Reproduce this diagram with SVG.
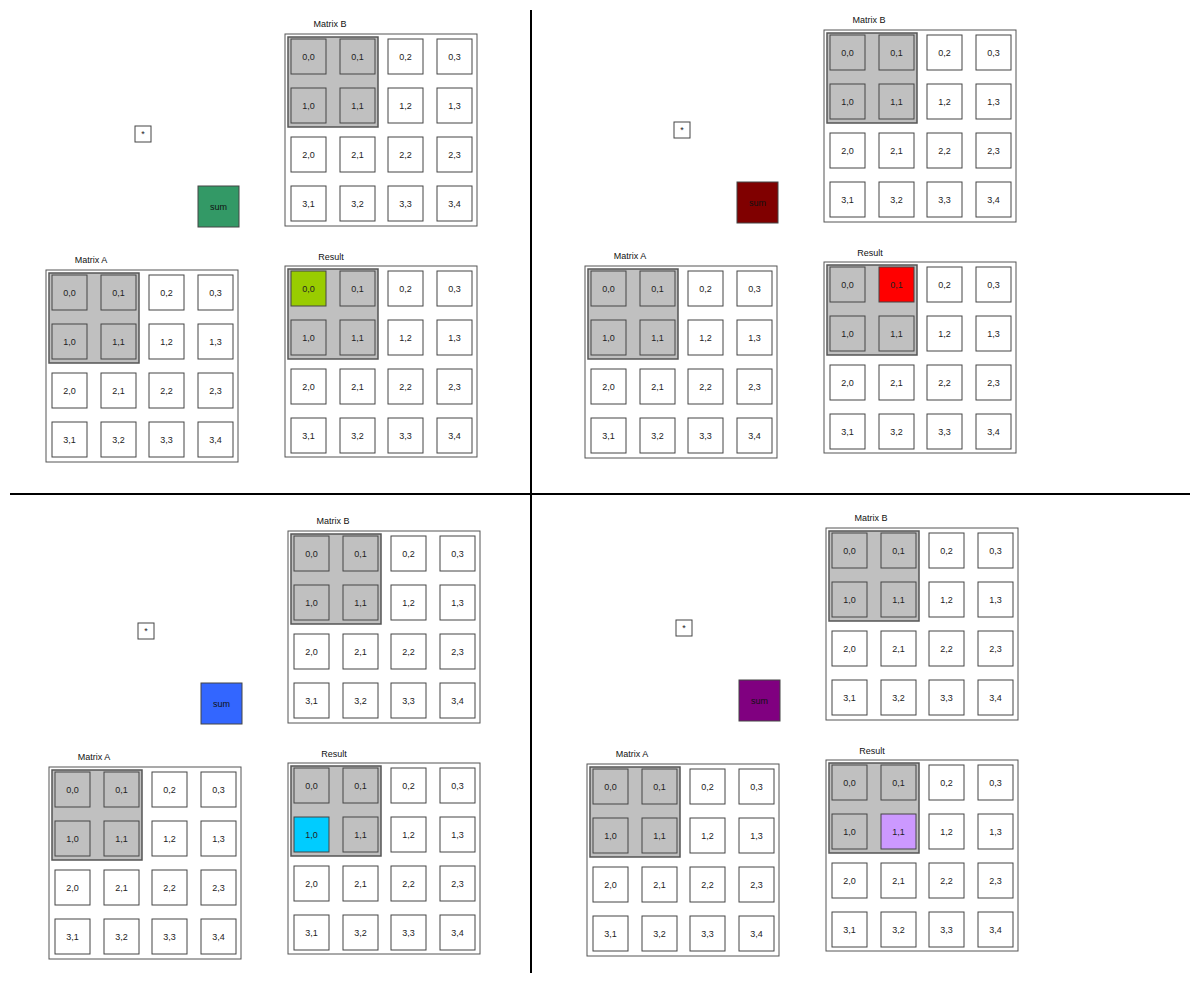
<svg xmlns="http://www.w3.org/2000/svg" width="1200" height="984" viewBox="0 0 1200 984">
<style>
.bg{fill:#fff}
.outer{fill:#fff;stroke:#555;stroke-width:1}
.hl{fill:#c0c0c0;stroke:#555;stroke-width:1.5}
.c{fill:#fff;stroke:#444;stroke-width:1}
.g{fill:#c0c0c0;stroke:#444;stroke-width:1}
.t{font-family:"Liberation Sans",Arial,sans-serif;font-size:9px;text-anchor:middle;fill:#222}
.lbl{font-family:"Liberation Sans",Arial,sans-serif;font-size:9px;text-anchor:middle;fill:#111}
.star{fill:#fff;stroke:#444;stroke-width:1}
.div{stroke:#000;stroke-width:2}
</style>
<rect class="bg" x="0" y="0" width="1200" height="984"/>

<g id="dividers">
<line class="div" x1="531" y1="10" x2="531" y2="973"/>
<line class="div" x1="10" y1="494" x2="1190" y2="494"/>
</g>

<!-- ================= TOP LEFT ================= -->
<g id="q-tl">
<g id="tl-star"><rect class="star" x="135" y="126" width="16" height="16"/><text class="t" x="143" y="137">*</text></g>
<g id="tl-sum"><rect x="198" y="186" width="41" height="41" fill="#339966" stroke="#444"/><text class="t" x="218.5" y="209.5" style="fill:#111">sum</text></g>
<text class="lbl" x="330" y="27">Matrix B</text>
<g id="tl-matrix-b" transform="translate(285,34)">
<rect class="outer" x="0" y="0" width="192" height="192"/>
<rect class="hl" x="3" y="3" width="90" height="90"/>
<rect class="g" x="6" y="5" width="35" height="35"/><text class="t" x="23.5" y="25.5">0,0</text>
<rect class="g" x="55" y="5" width="35" height="35"/><text class="t" x="72.5" y="25.5">0,1</text>
<rect class="c" x="103" y="5" width="35" height="35"/><text class="t" x="120.5" y="25.5">0,2</text>
<rect class="c" x="152" y="5" width="35" height="35"/><text class="t" x="169.5" y="25.5">0,3</text>
<rect class="g" x="6" y="54" width="35" height="35"/><text class="t" x="23.5" y="74.5">1,0</text>
<rect class="g" x="55" y="54" width="35" height="35"/><text class="t" x="72.5" y="74.5">1,1</text>
<rect class="c" x="103" y="54" width="35" height="35"/><text class="t" x="120.5" y="74.5">1,2</text>
<rect class="c" x="152" y="54" width="35" height="35"/><text class="t" x="169.5" y="74.5">1,3</text>
<rect class="c" x="6" y="103" width="35" height="35"/><text class="t" x="23.5" y="123.5">2,0</text>
<rect class="c" x="55" y="103" width="35" height="35"/><text class="t" x="72.5" y="123.5">2,1</text>
<rect class="c" x="103" y="103" width="35" height="35"/><text class="t" x="120.5" y="123.5">2,2</text>
<rect class="c" x="152" y="103" width="35" height="35"/><text class="t" x="169.5" y="123.5">2,3</text>
<rect class="c" x="6" y="152" width="35" height="35"/><text class="t" x="23.5" y="172.5">3,1</text>
<rect class="c" x="55" y="152" width="35" height="35"/><text class="t" x="72.5" y="172.5">3,2</text>
<rect class="c" x="103" y="152" width="35" height="35"/><text class="t" x="120.5" y="172.5">3,3</text>
<rect class="c" x="152" y="152" width="35" height="35"/><text class="t" x="169.5" y="172.5">3,4</text>
</g>
<text class="lbl" x="91" y="263">Matrix A</text>
<g id="tl-matrix-a" transform="translate(46,270)">
<rect class="outer" x="0" y="0" width="192" height="192"/>
<rect class="hl" x="3" y="3" width="90" height="90"/>
<rect class="g" x="6" y="5" width="35" height="35"/><text class="t" x="23.5" y="25.5">0,0</text>
<rect class="g" x="55" y="5" width="35" height="35"/><text class="t" x="72.5" y="25.5">0,1</text>
<rect class="c" x="103" y="5" width="35" height="35"/><text class="t" x="120.5" y="25.5">0,2</text>
<rect class="c" x="152" y="5" width="35" height="35"/><text class="t" x="169.5" y="25.5">0,3</text>
<rect class="g" x="6" y="54" width="35" height="35"/><text class="t" x="23.5" y="74.5">1,0</text>
<rect class="g" x="55" y="54" width="35" height="35"/><text class="t" x="72.5" y="74.5">1,1</text>
<rect class="c" x="103" y="54" width="35" height="35"/><text class="t" x="120.5" y="74.5">1,2</text>
<rect class="c" x="152" y="54" width="35" height="35"/><text class="t" x="169.5" y="74.5">1,3</text>
<rect class="c" x="6" y="103" width="35" height="35"/><text class="t" x="23.5" y="123.5">2,0</text>
<rect class="c" x="55" y="103" width="35" height="35"/><text class="t" x="72.5" y="123.5">2,1</text>
<rect class="c" x="103" y="103" width="35" height="35"/><text class="t" x="120.5" y="123.5">2,2</text>
<rect class="c" x="152" y="103" width="35" height="35"/><text class="t" x="169.5" y="123.5">2,3</text>
<rect class="c" x="6" y="152" width="35" height="35"/><text class="t" x="23.5" y="172.5">3,1</text>
<rect class="c" x="55" y="152" width="35" height="35"/><text class="t" x="72.5" y="172.5">3,2</text>
<rect class="c" x="103" y="152" width="35" height="35"/><text class="t" x="120.5" y="172.5">3,3</text>
<rect class="c" x="152" y="152" width="35" height="35"/><text class="t" x="169.5" y="172.5">3,4</text>
</g>
<text class="lbl" x="331" y="260">Result</text>
<g id="tl-result" transform="translate(285,266)">
<rect class="outer" x="0" y="0" width="192" height="191"/>
<rect class="hl" x="3" y="3" width="90" height="90"/>
<rect x="6" y="5" width="35" height="35" fill="#99cc00" stroke="#444"/><text class="t" x="23.5" y="25.5">0,0</text>
<rect class="g" x="55" y="5" width="35" height="35"/><text class="t" x="72.5" y="25.5">0,1</text>
<rect class="c" x="103" y="5" width="35" height="35"/><text class="t" x="120.5" y="25.5">0,2</text>
<rect class="c" x="152" y="5" width="35" height="35"/><text class="t" x="169.5" y="25.5">0,3</text>
<rect class="g" x="6" y="54" width="35" height="35"/><text class="t" x="23.5" y="74.5">1,0</text>
<rect class="g" x="55" y="54" width="35" height="35"/><text class="t" x="72.5" y="74.5">1,1</text>
<rect class="c" x="103" y="54" width="35" height="35"/><text class="t" x="120.5" y="74.5">1,2</text>
<rect class="c" x="152" y="54" width="35" height="35"/><text class="t" x="169.5" y="74.5">1,3</text>
<rect class="c" x="6" y="103" width="35" height="35"/><text class="t" x="23.5" y="123.5">2,0</text>
<rect class="c" x="55" y="103" width="35" height="35"/><text class="t" x="72.5" y="123.5">2,1</text>
<rect class="c" x="103" y="103" width="35" height="35"/><text class="t" x="120.5" y="123.5">2,2</text>
<rect class="c" x="152" y="103" width="35" height="35"/><text class="t" x="169.5" y="123.5">2,3</text>
<rect class="c" x="6" y="152" width="35" height="35"/><text class="t" x="23.5" y="172.5">3,1</text>
<rect class="c" x="55" y="152" width="35" height="35"/><text class="t" x="72.5" y="172.5">3,2</text>
<rect class="c" x="103" y="152" width="35" height="35"/><text class="t" x="120.5" y="172.5">3,3</text>
<rect class="c" x="152" y="152" width="35" height="35"/><text class="t" x="169.5" y="172.5">3,4</text>
</g>
</g>

<!-- ================= TOP RIGHT ================= -->
<g id="q-tr" transform="translate(539,-4)">
<g id="tr-star"><rect class="star" x="135" y="126" width="16" height="16"/><text class="t" x="143" y="137">*</text></g>
<g id="tr-sum"><rect x="198" y="186" width="41" height="41" fill="#800000" stroke="#444"/><text class="t" x="218.5" y="209.5" style="fill:#111">sum</text></g>
<text class="lbl" x="330" y="27">Matrix B</text>
<g id="tr-matrix-b" transform="translate(285,34)">
<rect class="outer" x="0" y="0" width="192" height="192"/>
<rect class="hl" x="3" y="3" width="90" height="90"/>
<rect class="g" x="6" y="5" width="35" height="35"/><text class="t" x="23.5" y="25.5">0,0</text>
<rect class="g" x="55" y="5" width="35" height="35"/><text class="t" x="72.5" y="25.5">0,1</text>
<rect class="c" x="103" y="5" width="35" height="35"/><text class="t" x="120.5" y="25.5">0,2</text>
<rect class="c" x="152" y="5" width="35" height="35"/><text class="t" x="169.5" y="25.5">0,3</text>
<rect class="g" x="6" y="54" width="35" height="35"/><text class="t" x="23.5" y="74.5">1,0</text>
<rect class="g" x="55" y="54" width="35" height="35"/><text class="t" x="72.5" y="74.5">1,1</text>
<rect class="c" x="103" y="54" width="35" height="35"/><text class="t" x="120.5" y="74.5">1,2</text>
<rect class="c" x="152" y="54" width="35" height="35"/><text class="t" x="169.5" y="74.5">1,3</text>
<rect class="c" x="6" y="103" width="35" height="35"/><text class="t" x="23.5" y="123.5">2,0</text>
<rect class="c" x="55" y="103" width="35" height="35"/><text class="t" x="72.5" y="123.5">2,1</text>
<rect class="c" x="103" y="103" width="35" height="35"/><text class="t" x="120.5" y="123.5">2,2</text>
<rect class="c" x="152" y="103" width="35" height="35"/><text class="t" x="169.5" y="123.5">2,3</text>
<rect class="c" x="6" y="152" width="35" height="35"/><text class="t" x="23.5" y="172.5">3,1</text>
<rect class="c" x="55" y="152" width="35" height="35"/><text class="t" x="72.5" y="172.5">3,2</text>
<rect class="c" x="103" y="152" width="35" height="35"/><text class="t" x="120.5" y="172.5">3,3</text>
<rect class="c" x="152" y="152" width="35" height="35"/><text class="t" x="169.5" y="172.5">3,4</text>
</g>
<text class="lbl" x="91" y="263">Matrix A</text>
<g id="tr-matrix-a" transform="translate(46,270)">
<rect class="outer" x="0" y="0" width="192" height="192"/>
<rect class="hl" x="3" y="3" width="90" height="90"/>
<rect class="g" x="6" y="5" width="35" height="35"/><text class="t" x="23.5" y="25.5">0,0</text>
<rect class="g" x="55" y="5" width="35" height="35"/><text class="t" x="72.5" y="25.5">0,1</text>
<rect class="c" x="103" y="5" width="35" height="35"/><text class="t" x="120.5" y="25.5">0,2</text>
<rect class="c" x="152" y="5" width="35" height="35"/><text class="t" x="169.5" y="25.5">0,3</text>
<rect class="g" x="6" y="54" width="35" height="35"/><text class="t" x="23.5" y="74.5">1,0</text>
<rect class="g" x="55" y="54" width="35" height="35"/><text class="t" x="72.5" y="74.5">1,1</text>
<rect class="c" x="103" y="54" width="35" height="35"/><text class="t" x="120.5" y="74.5">1,2</text>
<rect class="c" x="152" y="54" width="35" height="35"/><text class="t" x="169.5" y="74.5">1,3</text>
<rect class="c" x="6" y="103" width="35" height="35"/><text class="t" x="23.5" y="123.5">2,0</text>
<rect class="c" x="55" y="103" width="35" height="35"/><text class="t" x="72.5" y="123.5">2,1</text>
<rect class="c" x="103" y="103" width="35" height="35"/><text class="t" x="120.5" y="123.5">2,2</text>
<rect class="c" x="152" y="103" width="35" height="35"/><text class="t" x="169.5" y="123.5">2,3</text>
<rect class="c" x="6" y="152" width="35" height="35"/><text class="t" x="23.5" y="172.5">3,1</text>
<rect class="c" x="55" y="152" width="35" height="35"/><text class="t" x="72.5" y="172.5">3,2</text>
<rect class="c" x="103" y="152" width="35" height="35"/><text class="t" x="120.5" y="172.5">3,3</text>
<rect class="c" x="152" y="152" width="35" height="35"/><text class="t" x="169.5" y="172.5">3,4</text>
</g>
<text class="lbl" x="331" y="260">Result</text>
<g id="tr-result" transform="translate(285,266)">
<rect class="outer" x="0" y="0" width="192" height="191"/>
<rect class="hl" x="3" y="3" width="90" height="90"/>
<rect class="g" x="6" y="5" width="35" height="35"/><text class="t" x="23.5" y="25.5">0,0</text>
<rect x="55" y="5" width="35" height="35" fill="#ff0000" stroke="#444"/><text class="t" x="72.5" y="25.5">0,1</text>
<rect class="c" x="103" y="5" width="35" height="35"/><text class="t" x="120.5" y="25.5">0,2</text>
<rect class="c" x="152" y="5" width="35" height="35"/><text class="t" x="169.5" y="25.5">0,3</text>
<rect class="g" x="6" y="54" width="35" height="35"/><text class="t" x="23.5" y="74.5">1,0</text>
<rect class="g" x="55" y="54" width="35" height="35"/><text class="t" x="72.5" y="74.5">1,1</text>
<rect class="c" x="103" y="54" width="35" height="35"/><text class="t" x="120.5" y="74.5">1,2</text>
<rect class="c" x="152" y="54" width="35" height="35"/><text class="t" x="169.5" y="74.5">1,3</text>
<rect class="c" x="6" y="103" width="35" height="35"/><text class="t" x="23.5" y="123.5">2,0</text>
<rect class="c" x="55" y="103" width="35" height="35"/><text class="t" x="72.5" y="123.5">2,1</text>
<rect class="c" x="103" y="103" width="35" height="35"/><text class="t" x="120.5" y="123.5">2,2</text>
<rect class="c" x="152" y="103" width="35" height="35"/><text class="t" x="169.5" y="123.5">2,3</text>
<rect class="c" x="6" y="152" width="35" height="35"/><text class="t" x="23.5" y="172.5">3,1</text>
<rect class="c" x="55" y="152" width="35" height="35"/><text class="t" x="72.5" y="172.5">3,2</text>
<rect class="c" x="103" y="152" width="35" height="35"/><text class="t" x="120.5" y="172.5">3,3</text>
<rect class="c" x="152" y="152" width="35" height="35"/><text class="t" x="169.5" y="172.5">3,4</text>
</g>
</g>

<!-- ================= BOTTOM LEFT ================= -->
<g id="q-bl" transform="translate(3,497)">
<g id="bl-star"><rect class="star" x="135" y="126" width="16" height="16"/><text class="t" x="143" y="137">*</text></g>
<g id="bl-sum"><rect x="198" y="186" width="41" height="41" fill="#3366ff" stroke="#444"/><text class="t" x="218.5" y="209.5" style="fill:#111">sum</text></g>
<text class="lbl" x="330" y="27">Matrix B</text>
<g id="bl-matrix-b" transform="translate(285,34)">
<rect class="outer" x="0" y="0" width="192" height="192"/>
<rect class="hl" x="3" y="3" width="90" height="90"/>
<rect class="g" x="6" y="5" width="35" height="35"/><text class="t" x="23.5" y="25.5">0,0</text>
<rect class="g" x="55" y="5" width="35" height="35"/><text class="t" x="72.5" y="25.5">0,1</text>
<rect class="c" x="103" y="5" width="35" height="35"/><text class="t" x="120.5" y="25.5">0,2</text>
<rect class="c" x="152" y="5" width="35" height="35"/><text class="t" x="169.5" y="25.5">0,3</text>
<rect class="g" x="6" y="54" width="35" height="35"/><text class="t" x="23.5" y="74.5">1,0</text>
<rect class="g" x="55" y="54" width="35" height="35"/><text class="t" x="72.5" y="74.5">1,1</text>
<rect class="c" x="103" y="54" width="35" height="35"/><text class="t" x="120.5" y="74.5">1,2</text>
<rect class="c" x="152" y="54" width="35" height="35"/><text class="t" x="169.5" y="74.5">1,3</text>
<rect class="c" x="6" y="103" width="35" height="35"/><text class="t" x="23.5" y="123.5">2,0</text>
<rect class="c" x="55" y="103" width="35" height="35"/><text class="t" x="72.5" y="123.5">2,1</text>
<rect class="c" x="103" y="103" width="35" height="35"/><text class="t" x="120.5" y="123.5">2,2</text>
<rect class="c" x="152" y="103" width="35" height="35"/><text class="t" x="169.5" y="123.5">2,3</text>
<rect class="c" x="6" y="152" width="35" height="35"/><text class="t" x="23.5" y="172.5">3,1</text>
<rect class="c" x="55" y="152" width="35" height="35"/><text class="t" x="72.5" y="172.5">3,2</text>
<rect class="c" x="103" y="152" width="35" height="35"/><text class="t" x="120.5" y="172.5">3,3</text>
<rect class="c" x="152" y="152" width="35" height="35"/><text class="t" x="169.5" y="172.5">3,4</text>
</g>
<text class="lbl" x="91" y="263">Matrix A</text>
<g id="bl-matrix-a" transform="translate(46,270)">
<rect class="outer" x="0" y="0" width="192" height="192"/>
<rect class="hl" x="3" y="3" width="90" height="90"/>
<rect class="g" x="6" y="5" width="35" height="35"/><text class="t" x="23.5" y="25.5">0,0</text>
<rect class="g" x="55" y="5" width="35" height="35"/><text class="t" x="72.5" y="25.5">0,1</text>
<rect class="c" x="103" y="5" width="35" height="35"/><text class="t" x="120.5" y="25.5">0,2</text>
<rect class="c" x="152" y="5" width="35" height="35"/><text class="t" x="169.5" y="25.5">0,3</text>
<rect class="g" x="6" y="54" width="35" height="35"/><text class="t" x="23.5" y="74.5">1,0</text>
<rect class="g" x="55" y="54" width="35" height="35"/><text class="t" x="72.5" y="74.5">1,1</text>
<rect class="c" x="103" y="54" width="35" height="35"/><text class="t" x="120.5" y="74.5">1,2</text>
<rect class="c" x="152" y="54" width="35" height="35"/><text class="t" x="169.5" y="74.5">1,3</text>
<rect class="c" x="6" y="103" width="35" height="35"/><text class="t" x="23.5" y="123.5">2,0</text>
<rect class="c" x="55" y="103" width="35" height="35"/><text class="t" x="72.5" y="123.5">2,1</text>
<rect class="c" x="103" y="103" width="35" height="35"/><text class="t" x="120.5" y="123.5">2,2</text>
<rect class="c" x="152" y="103" width="35" height="35"/><text class="t" x="169.5" y="123.5">2,3</text>
<rect class="c" x="6" y="152" width="35" height="35"/><text class="t" x="23.5" y="172.5">3,1</text>
<rect class="c" x="55" y="152" width="35" height="35"/><text class="t" x="72.5" y="172.5">3,2</text>
<rect class="c" x="103" y="152" width="35" height="35"/><text class="t" x="120.5" y="172.5">3,3</text>
<rect class="c" x="152" y="152" width="35" height="35"/><text class="t" x="169.5" y="172.5">3,4</text>
</g>
<text class="lbl" x="331" y="260">Result</text>
<g id="bl-result" transform="translate(285,266)">
<rect class="outer" x="0" y="0" width="192" height="191"/>
<rect class="hl" x="3" y="3" width="90" height="90"/>
<rect class="g" x="6" y="5" width="35" height="35"/><text class="t" x="23.5" y="25.5">0,0</text>
<rect class="g" x="55" y="5" width="35" height="35"/><text class="t" x="72.5" y="25.5">0,1</text>
<rect class="c" x="103" y="5" width="35" height="35"/><text class="t" x="120.5" y="25.5">0,2</text>
<rect class="c" x="152" y="5" width="35" height="35"/><text class="t" x="169.5" y="25.5">0,3</text>
<rect x="6" y="54" width="35" height="35" fill="#00ccff" stroke="#444"/><text class="t" x="23.5" y="74.5">1,0</text>
<rect class="g" x="55" y="54" width="35" height="35"/><text class="t" x="72.5" y="74.5">1,1</text>
<rect class="c" x="103" y="54" width="35" height="35"/><text class="t" x="120.5" y="74.5">1,2</text>
<rect class="c" x="152" y="54" width="35" height="35"/><text class="t" x="169.5" y="74.5">1,3</text>
<rect class="c" x="6" y="103" width="35" height="35"/><text class="t" x="23.5" y="123.5">2,0</text>
<rect class="c" x="55" y="103" width="35" height="35"/><text class="t" x="72.5" y="123.5">2,1</text>
<rect class="c" x="103" y="103" width="35" height="35"/><text class="t" x="120.5" y="123.5">2,2</text>
<rect class="c" x="152" y="103" width="35" height="35"/><text class="t" x="169.5" y="123.5">2,3</text>
<rect class="c" x="6" y="152" width="35" height="35"/><text class="t" x="23.5" y="172.5">3,1</text>
<rect class="c" x="55" y="152" width="35" height="35"/><text class="t" x="72.5" y="172.5">3,2</text>
<rect class="c" x="103" y="152" width="35" height="35"/><text class="t" x="120.5" y="172.5">3,3</text>
<rect class="c" x="152" y="152" width="35" height="35"/><text class="t" x="169.5" y="172.5">3,4</text>
</g>
</g>

<!-- ================= BOTTOM RIGHT ================= -->
<g id="q-br" transform="translate(541,494)">
<g id="br-star"><rect class="star" x="135" y="126" width="16" height="16"/><text class="t" x="143" y="137">*</text></g>
<g id="br-sum"><rect x="198" y="186" width="41" height="41" fill="#800080" stroke="#444"/><text class="t" x="218.5" y="209.5" style="fill:#111">sum</text></g>
<text class="lbl" x="330" y="27">Matrix B</text>
<g id="br-matrix-b" transform="translate(285,34)">
<rect class="outer" x="0" y="0" width="192" height="192"/>
<rect class="hl" x="3" y="3" width="90" height="90"/>
<rect class="g" x="6" y="5" width="35" height="35"/><text class="t" x="23.5" y="25.5">0,0</text>
<rect class="g" x="55" y="5" width="35" height="35"/><text class="t" x="72.5" y="25.5">0,1</text>
<rect class="c" x="103" y="5" width="35" height="35"/><text class="t" x="120.5" y="25.5">0,2</text>
<rect class="c" x="152" y="5" width="35" height="35"/><text class="t" x="169.5" y="25.5">0,3</text>
<rect class="g" x="6" y="54" width="35" height="35"/><text class="t" x="23.5" y="74.5">1,0</text>
<rect class="g" x="55" y="54" width="35" height="35"/><text class="t" x="72.5" y="74.5">1,1</text>
<rect class="c" x="103" y="54" width="35" height="35"/><text class="t" x="120.5" y="74.5">1,2</text>
<rect class="c" x="152" y="54" width="35" height="35"/><text class="t" x="169.5" y="74.5">1,3</text>
<rect class="c" x="6" y="103" width="35" height="35"/><text class="t" x="23.5" y="123.5">2,0</text>
<rect class="c" x="55" y="103" width="35" height="35"/><text class="t" x="72.5" y="123.5">2,1</text>
<rect class="c" x="103" y="103" width="35" height="35"/><text class="t" x="120.5" y="123.5">2,2</text>
<rect class="c" x="152" y="103" width="35" height="35"/><text class="t" x="169.5" y="123.5">2,3</text>
<rect class="c" x="6" y="152" width="35" height="35"/><text class="t" x="23.5" y="172.5">3,1</text>
<rect class="c" x="55" y="152" width="35" height="35"/><text class="t" x="72.5" y="172.5">3,2</text>
<rect class="c" x="103" y="152" width="35" height="35"/><text class="t" x="120.5" y="172.5">3,3</text>
<rect class="c" x="152" y="152" width="35" height="35"/><text class="t" x="169.5" y="172.5">3,4</text>
</g>
<text class="lbl" x="91" y="263">Matrix A</text>
<g id="br-matrix-a" transform="translate(46,270)">
<rect class="outer" x="0" y="0" width="192" height="192"/>
<rect class="hl" x="3" y="3" width="90" height="90"/>
<rect class="g" x="6" y="5" width="35" height="35"/><text class="t" x="23.5" y="25.5">0,0</text>
<rect class="g" x="55" y="5" width="35" height="35"/><text class="t" x="72.5" y="25.5">0,1</text>
<rect class="c" x="103" y="5" width="35" height="35"/><text class="t" x="120.5" y="25.5">0,2</text>
<rect class="c" x="152" y="5" width="35" height="35"/><text class="t" x="169.5" y="25.5">0,3</text>
<rect class="g" x="6" y="54" width="35" height="35"/><text class="t" x="23.5" y="74.5">1,0</text>
<rect class="g" x="55" y="54" width="35" height="35"/><text class="t" x="72.5" y="74.5">1,1</text>
<rect class="c" x="103" y="54" width="35" height="35"/><text class="t" x="120.5" y="74.5">1,2</text>
<rect class="c" x="152" y="54" width="35" height="35"/><text class="t" x="169.5" y="74.5">1,3</text>
<rect class="c" x="6" y="103" width="35" height="35"/><text class="t" x="23.5" y="123.5">2,0</text>
<rect class="c" x="55" y="103" width="35" height="35"/><text class="t" x="72.5" y="123.5">2,1</text>
<rect class="c" x="103" y="103" width="35" height="35"/><text class="t" x="120.5" y="123.5">2,2</text>
<rect class="c" x="152" y="103" width="35" height="35"/><text class="t" x="169.5" y="123.5">2,3</text>
<rect class="c" x="6" y="152" width="35" height="35"/><text class="t" x="23.5" y="172.5">3,1</text>
<rect class="c" x="55" y="152" width="35" height="35"/><text class="t" x="72.5" y="172.5">3,2</text>
<rect class="c" x="103" y="152" width="35" height="35"/><text class="t" x="120.5" y="172.5">3,3</text>
<rect class="c" x="152" y="152" width="35" height="35"/><text class="t" x="169.5" y="172.5">3,4</text>
</g>
<text class="lbl" x="331" y="260">Result</text>
<g id="br-result" transform="translate(285,266)">
<rect class="outer" x="0" y="0" width="192" height="191"/>
<rect class="hl" x="3" y="3" width="90" height="90"/>
<rect class="g" x="6" y="5" width="35" height="35"/><text class="t" x="23.5" y="25.5">0,0</text>
<rect class="g" x="55" y="5" width="35" height="35"/><text class="t" x="72.5" y="25.5">0,1</text>
<rect class="c" x="103" y="5" width="35" height="35"/><text class="t" x="120.5" y="25.5">0,2</text>
<rect class="c" x="152" y="5" width="35" height="35"/><text class="t" x="169.5" y="25.5">0,3</text>
<rect class="g" x="6" y="54" width="35" height="35"/><text class="t" x="23.5" y="74.5">1,0</text>
<rect x="55" y="54" width="35" height="35" fill="#cc99ff" stroke="#444"/><text class="t" x="72.5" y="74.5">1,1</text>
<rect class="c" x="103" y="54" width="35" height="35"/><text class="t" x="120.5" y="74.5">1,2</text>
<rect class="c" x="152" y="54" width="35" height="35"/><text class="t" x="169.5" y="74.5">1,3</text>
<rect class="c" x="6" y="103" width="35" height="35"/><text class="t" x="23.5" y="123.5">2,0</text>
<rect class="c" x="55" y="103" width="35" height="35"/><text class="t" x="72.5" y="123.5">2,1</text>
<rect class="c" x="103" y="103" width="35" height="35"/><text class="t" x="120.5" y="123.5">2,2</text>
<rect class="c" x="152" y="103" width="35" height="35"/><text class="t" x="169.5" y="123.5">2,3</text>
<rect class="c" x="6" y="152" width="35" height="35"/><text class="t" x="23.5" y="172.5">3,1</text>
<rect class="c" x="55" y="152" width="35" height="35"/><text class="t" x="72.5" y="172.5">3,2</text>
<rect class="c" x="103" y="152" width="35" height="35"/><text class="t" x="120.5" y="172.5">3,3</text>
<rect class="c" x="152" y="152" width="35" height="35"/><text class="t" x="169.5" y="172.5">3,4</text>
</g>
</g>
</svg>
